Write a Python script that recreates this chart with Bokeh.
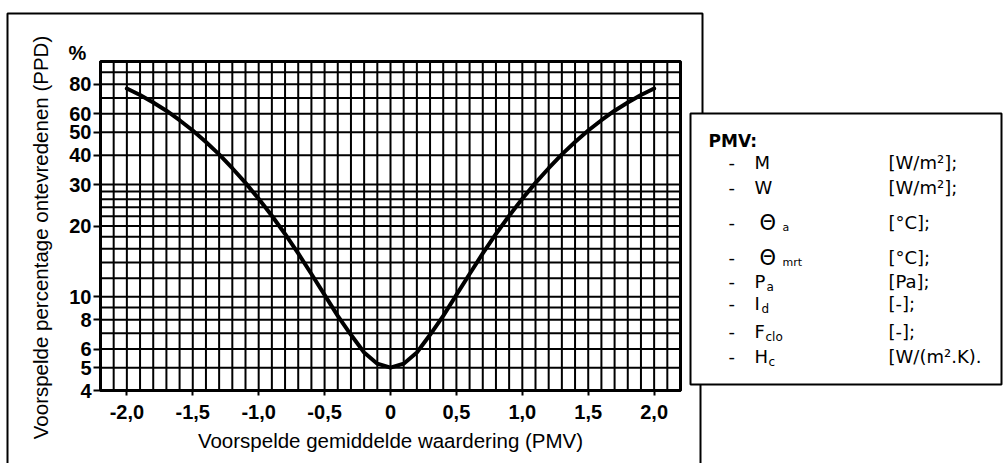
import math

from bokeh.plotting import figure
from bokeh.models import (Range1d, LinearScale, LogScale, FixedTicker, CustomJSTickFormatter,
                          Label, BoxAnnotation, LinearAxis, LogAxis)
from bokeh.embed import file_html
from bokeh.resources import INLINE

# Predicted mean vote and predicted percentage of dissatisfied
pmv = [-2.0, -1.9, -1.8, -1.7, -1.6, -1.5, -1.4, -1.3, -1.2, -1.1, -1.0,
       -0.9, -0.8, -0.7, -0.6, -0.5, -0.4, -0.3, -0.2, -0.1, 0.0,
       0.1, 0.2, 0.3, 0.4, 0.5, 0.6, 0.7, 0.8, 0.9, 1.0,
       1.1, 1.2, 1.3, 1.4, 1.5, 1.6, 1.7, 1.8, 1.9, 2.0]
ppd = [76.8, 72.1, 67.0, 61.8, 56.3, 50.9, 45.5, 40.3, 35.2, 30.5, 26.1,
       22.1, 18.5, 15.3, 12.5, 10.2, 8.3, 6.9, 5.8, 5.2, 5.0,
       5.2, 5.8, 6.9, 8.3, 10.2, 12.5, 15.3, 18.5, 22.1, 26.1,
       30.5, 35.2, 40.3, 45.5, 50.9, 56.3, 61.8, 67.0, 72.1, 76.8]

x_major = [-2.0, -1.5, -1.0, -0.5, 0.0, 0.5, 1.0, 1.5, 2.0]
y_major = [4, 5, 6, 8, 10, 20, 30, 40, 50, 60, 80]
y_minor = [7, 9, 12, 14, 16, 18, 22, 24, 26, 28, 70, 90, 100]
x_grid = [round(-2.2 + 0.1 * i, 1) for i in range(45)]
y_grid = sorted(y_major + y_minor)
PMV_MIN, PMV_MAX = -2.2, 2.2
PPD_MIN, PPD_MAX = 4, 100

# PMV input quantities and their units
param_symbols = ["M", "W", "\u0398", "\u0398", "P", "I", "F", "H"]
param_subs = ["", "", "a", "mrt", "a", "d", "clo", "c"]
param_units = ["[W/m\u00b2];", "[W/m\u00b2];", "[\u00b0C];", "[\u00b0C];",
               "[Pa];", "[-];", "[-];", "[W/(m\u00b2.K)."]

W, H = 1005, 463
FONT = "Liberation Sans"
LFONT = "DejaVu Sans"

# chart area on the page (pixels from the top-left corner)
CH_L, CH_R, CH_T, CH_B = 100, 680, 61, 390
px_per_pmv = (CH_R - CH_L) / (PMV_MAX - PMV_MIN)
pmv_lo = PMV_MIN - CH_L / px_per_pmv
pmv_hi = PMV_MAX + (W - CH_R) / px_per_pmv
px_per_ln = (CH_B - CH_T) / math.log(PPD_MAX / PPD_MIN)
ppd_lo = PPD_MIN * math.exp(-(H - CH_B) / px_per_ln)
ppd_hi = PPD_MAX * math.exp(CH_T / px_per_ln)

# the frame covers the whole page; default ranges are page pixels
p = figure(width=W, height=H, x_range=Range1d(0, W), y_range=Range1d(H, 0),
           x_axis_type=None, y_axis_type=None, output_backend="svg",
           toolbar_location=None, min_border=0, outline_line_color=None,
           background_fill_color="white", border_fill_color="white")
p.extra_x_ranges = {"pmv": Range1d(pmv_lo, pmv_hi)}
p.extra_y_ranges = {"ppd": Range1d(ppd_lo, ppd_hi)}
p.extra_x_scales = {"pmv": LinearScale()}
p.extra_y_scales = {"ppd": LogScale()}
chart = dict(x_range_name="pmv", y_range_name="ppd")

# dense grid
p.segment(x0=x_grid, y0=[PPD_MIN] * len(x_grid), x1=x_grid, y1=[PPD_MAX] * len(x_grid),
          line_color="black", line_width=2, **chart)
p.segment(x0=[PMV_MIN] * len(y_grid), y0=y_grid, x1=[PMV_MAX] * len(y_grid), y1=y_grid,
          line_color="black", line_width=2, **chart)
p.add_layout(BoxAnnotation(left=PMV_MIN, right=PMV_MAX, bottom=PPD_MIN, top=PPD_MAX,
                           fill_alpha=0, line_color="black", line_width=3, line_alpha=1,
                           **chart))

# PPD curve
p.line(pmv, ppd, line_color="black", line_width=4, line_cap="round", **chart)

# axes drawn on the chart edges
xax = LinearAxis(fixed_location=PPD_MIN, bounds=(PMV_MIN, PMV_MAX),
                 ticker=FixedTicker(ticks=x_major),
                 formatter=CustomJSTickFormatter(
                     code="return tick == 0 ? '0' : tick.toFixed(1).replace('.', ',')"),
                 axis_label="Voorspelde gemiddelde waardering (PMV)", **chart)
yax = LogAxis(fixed_location=PMV_MIN, bounds=(PPD_MIN, PPD_MAX),
              ticker=FixedTicker(ticks=y_major),
              formatter=CustomJSTickFormatter(code="return String(Math.round(tick))"),
              **chart)
for ax in (xax, yax):
    ax.axis_line_color = "black"
    ax.axis_line_width = 3
    ax.major_tick_line_color = "black"
    ax.major_tick_line_width = 2
    ax.major_tick_in = 0
    ax.minor_tick_line_color = None
    ax.major_label_text_font = FONT
    ax.major_label_text_font_size = "20px"
    ax.major_label_text_font_style = "bold"
    ax.major_label_text_color = "black"
    ax.axis_label_text_font = FONT
    ax.axis_label_text_font_size = "20.5px"
    ax.axis_label_text_font_style = "normal"
    ax.axis_label_text_color = "black"
xax.major_tick_out = 5
xax.major_label_standoff = 9
xax.axis_label_standoff = 7
yax.major_tick_out = 7
yax.major_label_standoff = 2
p.add_layout(xax, "below")
p.add_layout(yax, "left")


def page_label(x, y, text, size="18px", style="normal", align="left", font=LFONT, angle=0):
    p.add_layout(Label(x=x, y=y, text=text, angle=angle,
                       text_align=align, text_baseline="middle",
                       text_font=font, text_font_size=size, text_font_style=style,
                       text_color="black"))


# vertical axis title and unit sign
page_label(40, 237, "Voorspelde percentage ontevredenen (PPD)", size="20.5px",
           align="center", font=FONT, angle=math.pi / 2)
page_label(77, 52, "%", size="20px", style="bold", align="center", font=FONT)

# surrounding frame
p.multi_line(xs=[[7, 7, 702, 702], [700, 700]], ys=[[H, 13, 13, 113], [384, H]],
             line_color="black", line_width=2)

# parameter box
p.add_layout(BoxAnnotation(left=690, right=1001, top=113, bottom=384,
                           fill_color="white", fill_alpha=1,
                           line_color="black", line_width=2, line_alpha=1))

page_label(708, 140, "PMV:", size="17px", style="bold")
row_y = [162, 187, 222, 257, 281, 303, 331, 356]
sub_x = {"P": 766, "I": 761, "F": 765, "H": 768}
for yy, sym, sub, unit in zip(row_y, param_symbols, param_subs, param_units):
    page_label(728, yy, "-")
    if sym == "\u0398":
        page_label(759, yy, sym, size="21px")
        page_label(782, yy + 5, sub, size="11px")
    else:
        page_label(754, yy, sym)
        if sub:
            page_label(sub_x[sym], yy + 5, sub, size="12px")
    page_label(888, yy, unit)

open("out.html", "w").write(file_html(p, INLINE))
